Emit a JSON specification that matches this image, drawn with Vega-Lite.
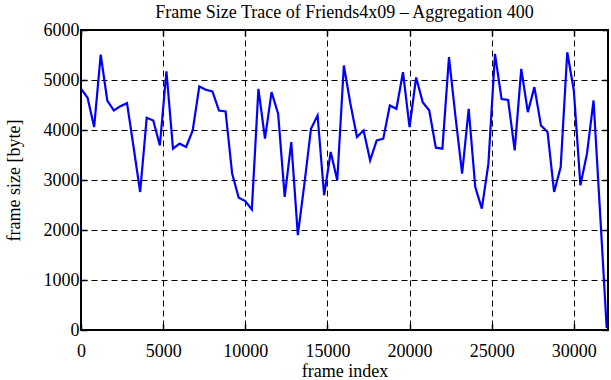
{
  "$schema": "https://vega.github.io/schema/vega-lite/v6.json",
  "autosize": "none",
  "width": 527,
  "height": 300,
  "padding": {"left": 81, "top": 30, "right": 3, "bottom": 50},
  "background": "white",
  "config": {
    "view": {"stroke": "black", "strokeWidth": 2},
    "font": "Liberation Serif",
    "axis": {
      "labelFont": "Liberation Serif",
      "labelFontSize": 18,
      "labelColor": "black",
      "titleFont": "Liberation Serif",
      "titleFontSize": 18,
      "titleFontWeight": "normal",
      "titleColor": "black",
      "domain": false,
      "tickColor": "black",
      "tickWidth": 1.5,
      "gridColor": "black",
      "gridOpacity": 1,
      "gridWidth": 1,
      "gridDash": [6, 4]
    }
  },
  "title": {
    "text": "Frame Size Trace of Friends4x09 – Aggregation 400",
    "font": "Liberation Serif",
    "fontSize": 18,
    "fontWeight": "normal",
    "color": "black",
    "offset": 6,
    "dy": 7
  },
  "data": {
    "values": [
      {"frame": 0, "size": 4825},
      {"frame": 400, "size": 4645},
      {"frame": 800, "size": 4058},
      {"frame": 1200, "size": 5509},
      {"frame": 1600, "size": 4590},
      {"frame": 2000, "size": 4390},
      {"frame": 2400, "size": 4477},
      {"frame": 2800, "size": 4537},
      {"frame": 3200, "size": 3660},
      {"frame": 3600, "size": 2760},
      {"frame": 4000, "size": 4245},
      {"frame": 4400, "size": 4190},
      {"frame": 4800, "size": 3690},
      {"frame": 5200, "size": 5175},
      {"frame": 5600, "size": 3627},
      {"frame": 6000, "size": 3727},
      {"frame": 6400, "size": 3660},
      {"frame": 6800, "size": 3992},
      {"frame": 7200, "size": 4870},
      {"frame": 7600, "size": 4804},
      {"frame": 8000, "size": 4770},
      {"frame": 8400, "size": 4390},
      {"frame": 8800, "size": 4371},
      {"frame": 9200, "size": 3128},
      {"frame": 9600, "size": 2645},
      {"frame": 10000, "size": 2580},
      {"frame": 10400, "size": 2410},
      {"frame": 10800, "size": 4824},
      {"frame": 11200, "size": 3826},
      {"frame": 11600, "size": 4757},
      {"frame": 12000, "size": 4325},
      {"frame": 12400, "size": 2661},
      {"frame": 12800, "size": 3758},
      {"frame": 13200, "size": 1896},
      {"frame": 13600, "size": 2928},
      {"frame": 14000, "size": 4026},
      {"frame": 14400, "size": 4291},
      {"frame": 14800, "size": 2695},
      {"frame": 15200, "size": 3560},
      {"frame": 15600, "size": 2994},
      {"frame": 16000, "size": 5289},
      {"frame": 16400, "size": 4525},
      {"frame": 16800, "size": 3859},
      {"frame": 17200, "size": 3992},
      {"frame": 17600, "size": 3393},
      {"frame": 18000, "size": 3792},
      {"frame": 18400, "size": 3826},
      {"frame": 18800, "size": 4491},
      {"frame": 19200, "size": 4425},
      {"frame": 19600, "size": 5156},
      {"frame": 20000, "size": 4058},
      {"frame": 20400, "size": 5050},
      {"frame": 20800, "size": 4557},
      {"frame": 21200, "size": 4391},
      {"frame": 21600, "size": 3646},
      {"frame": 22000, "size": 3627},
      {"frame": 22400, "size": 5456},
      {"frame": 22800, "size": 4258},
      {"frame": 23200, "size": 3128},
      {"frame": 23600, "size": 4425},
      {"frame": 24000, "size": 2860},
      {"frame": 24400, "size": 2428},
      {"frame": 24800, "size": 3327},
      {"frame": 25200, "size": 5522},
      {"frame": 25600, "size": 4620},
      {"frame": 26000, "size": 4600},
      {"frame": 26400, "size": 3593},
      {"frame": 26800, "size": 5223},
      {"frame": 27200, "size": 4357},
      {"frame": 27600, "size": 4857},
      {"frame": 28000, "size": 4092},
      {"frame": 28400, "size": 3958},
      {"frame": 28800, "size": 2760},
      {"frame": 29200, "size": 3260},
      {"frame": 29600, "size": 5555},
      {"frame": 30000, "size": 4790},
      {"frame": 30400, "size": 2894},
      {"frame": 30800, "size": 3527},
      {"frame": 31200, "size": 4590},
      {"frame": 31600, "size": 2335},
      {"frame": 32000, "size": 40}
    ]
  },
  "layer": [
    {
      "mark": {"type": "line", "color": "#0000ff", "strokeWidth": 2.2, "clip": true},
      "encoding": {
        "x": {
          "field": "frame", "type": "quantitative",
          "scale": {"domain": [0, 32080], "nice": false, "zero": false},
          "axis": {"title": "frame index", "values": [0, 5000, 10000, 15000, 20000, 25000, 30000], "format": "d", "tickSize": -6, "labelPadding": 18, "titlePadding": 2, "labelFlush": false}
        },
        "y": {
          "field": "size", "type": "quantitative",
          "scale": {"domain": [0, 6000], "nice": false},
          "axis": {"title": "frame size [byte]", "values": [0, 1000, 2000, 3000, 4000, 5000, 6000], "format": "d", "tickSize": -6, "labelPadding": 8, "titlePadding": 20, "labelFlush": false}
        }
      }
    },
    {
      "mark": {"type": "line", "opacity": 0},
      "encoding": {
        "x": {
          "field": "frame", "type": "quantitative",
          "scale": {"domain": [0, 32080], "nice": false, "zero": false},
          "axis": {"orient": "top", "title": null, "labels": false, "grid": false, "values": [0, 5000, 10000, 15000, 20000, 25000, 30000], "tickSize": -6}
        },
        "y": {
          "field": "size", "type": "quantitative",
          "scale": {"domain": [0, 6000], "nice": false},
          "axis": {"orient": "right", "title": null, "labels": false, "grid": false, "values": [0, 1000, 2000, 3000, 4000, 5000, 6000], "tickSize": -6}
        }
      }
    }
  ],
  "resolve": {"scale": {"x": "independent", "y": "independent"}, "axis": {"x": "independent", "y": "independent"}}
}
